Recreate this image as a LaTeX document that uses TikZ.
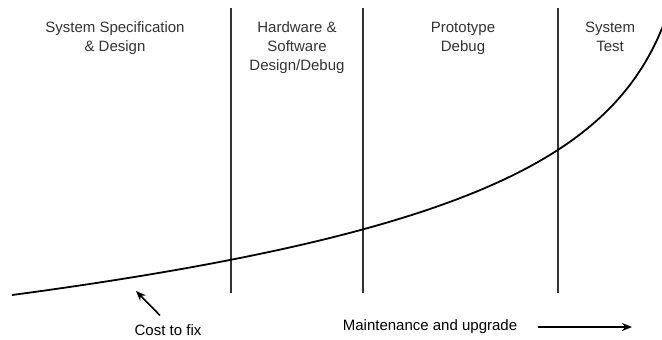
\documentclass[tikz,border=0pt]{standalone}
\usepackage{fontspec}
\setmainfont{Liberation Sans}
\usetikzlibrary{arrows.meta}
\begin{document}
\begin{tikzpicture}[x=0.5pt,y=-0.5pt,
  phase/.style={align=center,font=\fontsize{7.5}{9.5}\selectfont,anchor=north,text=black!80},
  note/.style={font=\fontsize{7.5}{9.5}\selectfont},
  divider/.style={line width=0.8pt,black!80}]
\useasboundingbox (0,0) rectangle (662,339);
% phase dividers
\coordinate (d1t) at (231,8);
\coordinate (d1b) at (231,293);
\coordinate (d2t) at (363,8);
\coordinate (d2b) at (363,293);
\coordinate (d3t) at (558,8);
\coordinate (d3b) at (558,293);
\draw [divider] (d1t) -- (d1b);
\draw [divider] (d2t) -- (d2b);
\draw [divider] (d3t) -- (d3b);
% phase labels
\node [phase] (spec) at (115,15) {System Specification\\\& Design};
\node [phase] (hw) at (297,15) {Hardware \&\\Software\\Design/Debug};
\node [phase] (proto) at (463,15) {Prototype\\Debug};
\node [phase] (test) at (610,15) {System\\Test};
% cost curve
\draw [line width=0.9pt] plot [domain=12:663,samples=120,smooth]
  (\x,{295-92*ln(688/(700-\x))});
% labels along the bottom
\node [note] (cost) at (168,330) {Cost to fix};
\coordinate (costtip) at (136,291);
\draw [line width=0.8pt,-{Stealth[length=5pt,width=4pt]}] (cost.north) ++(-8,-2) -- (costtip);
\node [note] (maint) at (430,327) {Maintenance and upgrade};
\coordinate (mainttip) at (632,327);
\draw [line width=0.8pt,-{Stealth[length=5pt,width=4pt]}] (maint.east) ++(14,0) -- (mainttip);
\end{tikzpicture}
\end{document}
